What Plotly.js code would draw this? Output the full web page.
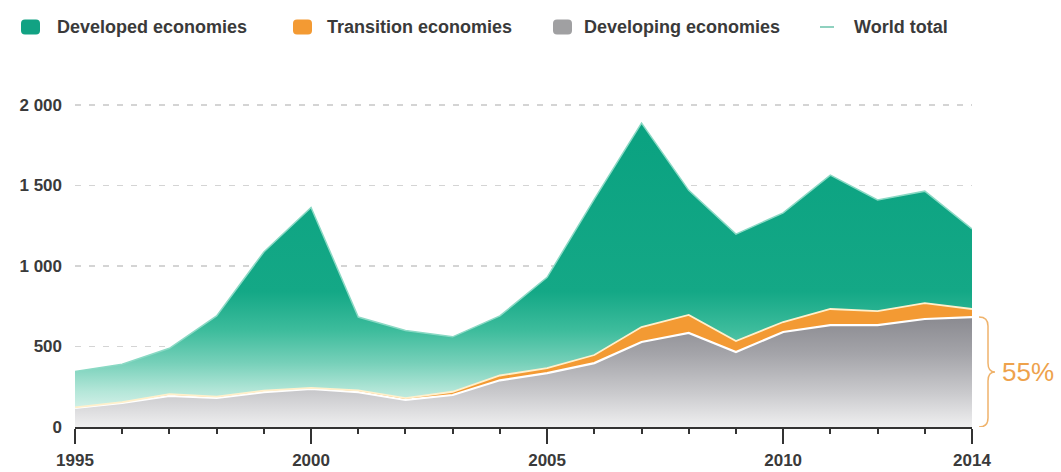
<!DOCTYPE html>
<html>
<head>
<meta charset="utf-8">
<script src="https://cdn.plot.ly/plotly-3.0.1.min.js"></script>
<style>
html,body{margin:0;padding:0;background:#ffffff;}
#chart{width:1061px;height:472px;}
</style>
</head>
<body>
<div id="chart"></div>
<script>
// ---- data (US$ billions) ----
const years = [1995,1996,1997,1998,1999,2000,2001,2002,2003,2004,2005,2006,2007,2008,2009,2010,2011,2012,2013,2014];
const developing = [118,149,193,180,217,236,217,168,199,290,335,397,528,584,466,590,633,633,671,683];
const transition = [4,6,11,9,9,7,10,12,20,30,30,50,93,112,68,62,100,87,99,50];
const developed  = [223,235,285,501,861,1121,456,420,341,370,565,968,1267,774,664,678,832,690,695,497];
const tickYears = [1995,2000,2005,2010,2014];
const yTicks = [0,500,1000,1500,2000];
const legendLabels = ['Developed economies','Transition economies','Developing economies','World total'];
const shareLabel = '55%';

// ---- layout geometry ----
const W = 1061, H = 472;
const M = {l:75, r:89, t:97, b:45};
const plotW = W - M.l - M.r, plotH = H - M.t - M.b;
const yMax = 2050;
const px2paperX = px => (px - M.l) / plotW;
const px2paperY = py => (H - M.b - py) / plotH;
const pxPerUnit = plotH / yMax;

const FONT = 'Liberation Sans, Arial, Helvetica, sans-serif';
const textCol = '#3a3a3a';

const traces = [
  {
    x: years, y: developing, name: legendLabels[2], type: 'scatter', mode: 'lines',
    stackgroup: 'one', line: {color: '#ffffff', width: 2.2},
    fillgradient: {type: 'vertical', start: 0, stop: 700,
      colorscale: [[0,'#efeff0'],[0.3,'#cacacd'],[0.65,'#a4a4a9'],[1,'#88888e']]},
    showlegend: false, hoverinfo: 'skip'
  },
  {
    x: years, y: transition, name: legendLabels[1], type: 'scatter', mode: 'lines',
    stackgroup: 'one', line: {color: '#fff0cc', width: 1.8},
    fillcolor: '#f39a33', showlegend: false, hoverinfo: 'skip'
  },
  {
    x: years, y: developed, name: legendLabels[0], type: 'scatter', mode: 'lines',
    stackgroup: 'one', line: {color: '#8ad9c4', width: 1.5},
    fillgradient: {type: 'vertical', start: 0, stop: 2000,
      colorscale: [[0,'#f4fbf9'],[0.11,'#b5e7d9'],[0.2,'#76d0b9'],[0.3,'#3dbc9c'],[0.42,'#14a886'],[1,'#09a180']]},
    showlegend: false, hoverinfo: 'skip'
  }
];

// ---- manual legend ----
const shapes = [];
const annotations = [];
function roundRect(x0, y0, x1, y1, r) {
  const X0 = px2paperX(x0), X1 = px2paperX(x1), Y0 = px2paperY(y0), Y1 = px2paperY(y1);
  const rx = r / plotW, ry = r / plotH;
  return `M ${X0+rx},${Y0} L ${X1-rx},${Y0} Q ${X1},${Y0} ${X1},${Y0-ry} L ${X1},${Y1+ry} Q ${X1},${Y1} ${X1-rx},${Y1} L ${X0+rx},${Y1} Q ${X0},${Y1} ${X0},${Y1+ry} L ${X0},${Y0-ry} Q ${X0},${Y0} ${X0+rx},${Y0} Z`;
}
const legY = 27;
const markerColors = ['#12a283','#f39a33','#a0a0a2'];
const markerX = [21, 293, 553];
const textX = [55, 325, 582, 852];
markerColors.forEach((c, i) => {
  shapes.push({type:'path', xref:'paper', yref:'paper', path: roundRect(markerX[i], legY-7.5, markerX[i]+19, legY+7.5, 4),
    fillcolor: c, line: {width: 0}});
});
shapes.push({type:'line', xref:'paper', yref:'paper', x0: px2paperX(820), x1: px2paperX(834), y0: px2paperY(legY), y1: px2paperY(legY),
  line: {color:'#8fd1bf', width: 2}});
legendLabels.forEach((t, i) => {
  annotations.push({text: t, xref:'paper', yref:'paper', x: px2paperX(textX[i]), y: px2paperY(legY),
    xanchor:'left', yanchor:'middle', showarrow:false,
    font:{family: FONT, size: 18, color: textCol, weight: 'bold'}});
});

// ---- 55% bracket ----
const brTop = developing[developing.length-1];
const brMid = brTop / 2;
const dy = 9 / pxPerUnit;
const xv = px2paperX(988), xl = px2paperX(979), xt = px2paperX(995);
shapes.push({type:'path', xref:'paper', yref:'y',
  path: `M ${xl},${brTop} Q ${xv},${brTop} ${xv},${brTop-dy} L ${xv},${brMid+dy} Q ${xv},${brMid} ${xt},${brMid} Q ${xv},${brMid} ${xv},${brMid-dy} L ${xv},${dy} Q ${xv},0 ${xl},0`,
  line:{color:'#efb36c', width:1.5}});
annotations.push({text: shareLabel, xref:'paper', yref:'y', x: px2paperX(1000), y: brMid,
  xanchor:'left', yanchor:'middle', showarrow:false,
  font:{family: FONT, size: 26, color:'#eea24c'}});

const layout = {
  width: W, height: H,
  margin: M,
  paper_bgcolor: '#ffffff', plot_bgcolor: '#ffffff',
  separators: '. ',
  showlegend: false,
  xaxis: {
    range: [years[0], years[years.length-1]],
    tickvals: tickYears, ticktext: tickYears.map(String),
    ticks: 'outside', ticklen: 15, tickwidth: 2, tickcolor: '#333333',
    showline: true, linecolor: '#333333', linewidth: 2,
    showgrid: false, zeroline: false,
    minor: {dtick: 1, tick0: years[0], ticks: 'outside', ticklen: 5, tickwidth: 2, tickcolor: '#333333', showgrid: false},
    tickfont: {family: FONT, size: 17, color: textCol, weight: 'bold'},
    ticklabelstandoff: 2
  },
  yaxis: {
    range: [0, yMax],
    tickvals: yTicks, tickformat: ',d',
    ticks: '', showline: false, zeroline: false,
    showgrid: true, gridcolor: '#d4d4d4', gridwidth: 1.5, griddash: '6px,8px',
    tickfont: {family: FONT, size: 17, color: textCol, weight: 'bold'},
    ticklabelstandoff: 12
  },
  shapes: shapes,
  annotations: annotations
};

Plotly.newPlot('chart', traces, layout, {staticPlot: true, displayModeBar: false});
</script>
</body>
</html>
